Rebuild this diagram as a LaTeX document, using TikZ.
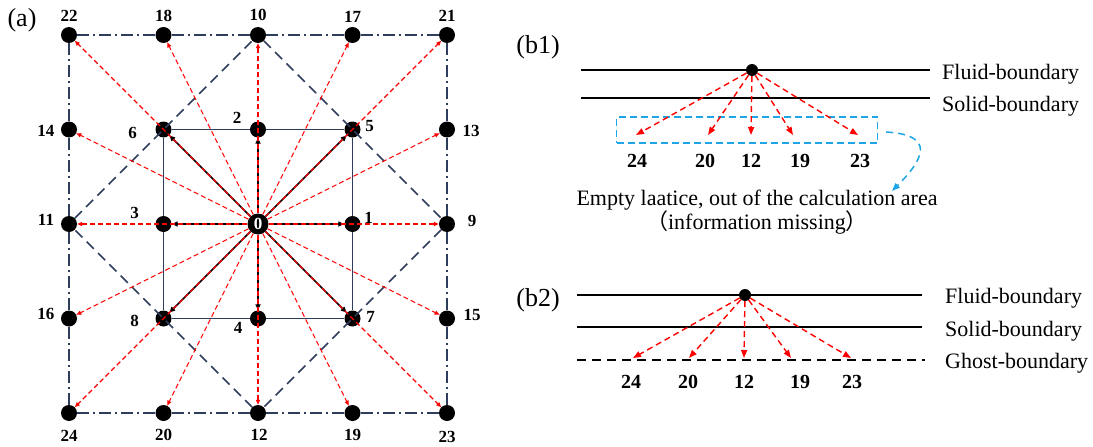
\documentclass[tikz,border=0pt]{standalone}
\usepackage{fontspec}
\setmainfont{Liberation Serif}
\newfontfamily\cjkfont{Noto Sans CJK SC}
\usetikzlibrary{positioning,arrows.meta,calc}
\definecolor{LatNavy}{HTML}{2F3D5C}
\definecolor{FlowRed}{HTML}{FF0000}
\definecolor{GapCyan}{HTML}{1EA5E6}

\begin{document}
\begin{tikzpicture}[
    x=1pt, y=-1pt,
    site/.style={circle, fill=black, minimum size=16pt, inner sep=0pt},
    rest/.style={circle, fill=black, minimum size=21pt, inner sep=0pt,
                 text=white, font=\fontsize{17}{17}\selectfont\bfseries},
    num/.style={font=\fontsize{17}{17}\selectfont\bfseries, inner sep=0pt},
    bnum/.style={font=\fontsize{20}{20}\selectfont\bfseries, inner sep=0pt},
    paneltag/.style={font=\fontsize{26}{26}\selectfont, inner sep=0pt},
    wtxt/.style={font=\fontsize{22}{22}\selectfont, inner sep=0pt,
                 anchor=base west},
    rim/.style={LatNavy, line width=1.5pt,
                dash pattern=on 12pt off 4pt on 2pt off 4pt},
    cell/.style={LatNavy, line width=1.5pt},
    diag/.style={LatNavy, line width=1.5pt, dash pattern=on 10pt off 6pt},
    inarr/.style={-{Triangle[length=6pt,width=5pt]}, line width=1.7pt, black},
    outarr/.style={-{Triangle[length=5pt,width=4pt]}, FlowRed,
                   line width=1.1pt, dash pattern=on 5pt off 3pt},
    wall/.style={line width=2pt, black},
    ghost/.style={line width=2pt, black, dash pattern=on 9pt off 6pt},
    bdot/.style={circle, fill=black, minimum size=12pt, inner sep=0pt},
    lost/.style={-{Triangle[length=8pt,width=6pt]}, FlowRed,
                 line width=1.4pt, dash pattern=on 6pt off 4pt},
    gapbox/.style={draw=GapCyan, line width=1.4pt,
                   dash pattern=on 7pt off 4pt, minimum width=261pt,
                   minimum height=26pt, inner sep=0pt},
    hint/.style={-{Triangle[length=8pt,width=6pt]}, GapCyan,
                 line width=1.5pt, dash pattern=on 7pt off 5pt},
  ]
    \useasboundingbox (0,0) rectangle (1093,447);

    % ── (a): D2Q25 lattice ─────────────────────────────────────────────
    \node[paneltag] (ta) at (22,20) {(a)};

    \foreach \n/\c/\r in {1/1/0, 2/0/-1, 3/-1/0, 4/0/1,
                          5/1/-1, 6/-1/-1, 7/1/1, 8/-1/1,
                          9/2/0, 10/0/-2, 11/-2/0, 12/0/2,
                          13/2/-1, 14/-2/-1, 15/2/1, 16/-2/1,
                          17/1/-2, 18/-1/-2, 19/1/2, 20/-1/2,
                          21/2/-2, 22/-2/-2, 23/2/2, 24/-2/2}
      \node[site] (s\n) at ({258+94.5*\c},{224+94.5*\r}) {};
    \node[rest] (s0) at (258,224) {0};

    % labels next to the sites
    \foreach \n/\dx/\dy in {22/0/-19, 18/0/-19, 10/0/-20, 17/0/-18, 21/0/-19,
                            24/0/23, 20/0/22, 12/1/22, 19/0/22, 23/0/24,
                            14/-23/1, 11/-23/-4, 16/-23/-5,
                            13/24/1, 9/25/-3, 15/25/-4,
                            6/-31/3, 2/-21/-12, 5/17/-3, 3/-29/-11,
                            1/16/-6, 8/-29/2, 4/-20/9, 7/18/-2}
      \node[num] (l\n) at ($(s\n)+(\dx,\dy)$) {\n};

    % ── lattice lines ───────────────────────────────────────────────────
    \foreach \a/\b in {22/18, 18/10, 10/17, 17/21, 21/13, 13/9, 9/15, 15/23,
                       23/19, 19/12, 12/20, 20/24, 24/16, 16/11, 11/14, 14/22}
      \draw[rim] (s\a) -- (s\b);
    \foreach \a/\b in {6/2, 2/5, 5/1, 1/7, 7/4, 4/8, 8/3, 3/6}
      \draw[cell] (s\a) -- (s\b);
    \foreach \a/\b in {10/9, 9/12, 12/11, 11/10}
      \draw[diag] (s\a) -- (s\b);

    % ── velocity arrows ─────────────────────────────────────────────────
    \foreach \b in {1,...,8}
      \draw[inarr] (s0) -- (s\b);
    \foreach \b in {9,...,24}
      \draw[outarr] (s0) -- (s\b);

    % ── (b1): missing information ───────────────────────────────────────
    \node[paneltag] (tb1) at (538,47) {(b1)};
    \coordinate (f1w) at (581,70);  \coordinate (f1e) at (930,70);
    \coordinate (w1w) at (581,98);  \coordinate (w1e) at (930,98);
    \draw[wall] (f1w) -- (f1e);
    \draw[wall] (w1w) -- (w1e);
    \node[bdot] (p1) at (752,70) {};
    \node[wtxt] (fl1) at (942,79) {Fluid-boundary};
    \node[wtxt] (so1) at (942,111) {Solid-boundary};
    \node[gapbox] (gap) at (747,130) {};

    \foreach \n/\x in {24/636, 20/708, 12/751, 19/793, 23/858} {
      \coordinate (e1\n) at (\x,135);
      \draw[lost] (p1) -- (e1\n);
    }
    \foreach \n/\x in {24/637, 20/705, 12/751, 19/800, 23/860}
      \node[bnum] (n1\n) at (\x,161) {\n};

    \node[font=\fontsize{22}{24}\selectfont, align=center, inner sep=0pt]
      (empty) at (757,212)
      {Empty laatice, out of the calculation area\\
       {\cjkfont （}information missing{\cjkfont ）}};
    \coordinate (hintend) at (892,191);
    \draw[hint] ($(gap.east)+(8,2)$) .. controls (935,135) and (925,158)
      .. (hintend);

    % ── (b2): ghost boundary ────────────────────────────────────────────
    \node[paneltag] (tb2) at (538,300) {(b2)};
    \coordinate (f2w) at (577,295);  \coordinate (f2e) at (922,295);
    \coordinate (w2w) at (577,327);  \coordinate (w2e) at (922,327);
    \coordinate (g2w) at (577,360);  \coordinate (g2e) at (925,360);
    \draw[wall] (f2w) -- (f2e);
    \draw[wall] (w2w) -- (w2e);
    \draw[ghost] (g2w) -- (g2e);
    \node[bdot] (p2) at (745,295) {};
    \node[wtxt] (fl2) at (945,303) {Fluid-boundary};
    \node[wtxt] (so2) at (945,336) {Solid-boundary};
    \node[wtxt] (gh2) at (945,368) {Ghost-boundary};

    \foreach \n/\x in {24/633, 20/689, 12/744, 19/791, 23/851} {
      \coordinate (e2\n) at (\x,358);
      \draw[lost] (p2) -- (e2\n);
    }
    \foreach \n/\x in {24/631, 20/688, 12/744, 19/800, 23/852}
      \node[bnum] (n2\n) at (\x,382) {\n};
  \end{tikzpicture}
\end{document}
